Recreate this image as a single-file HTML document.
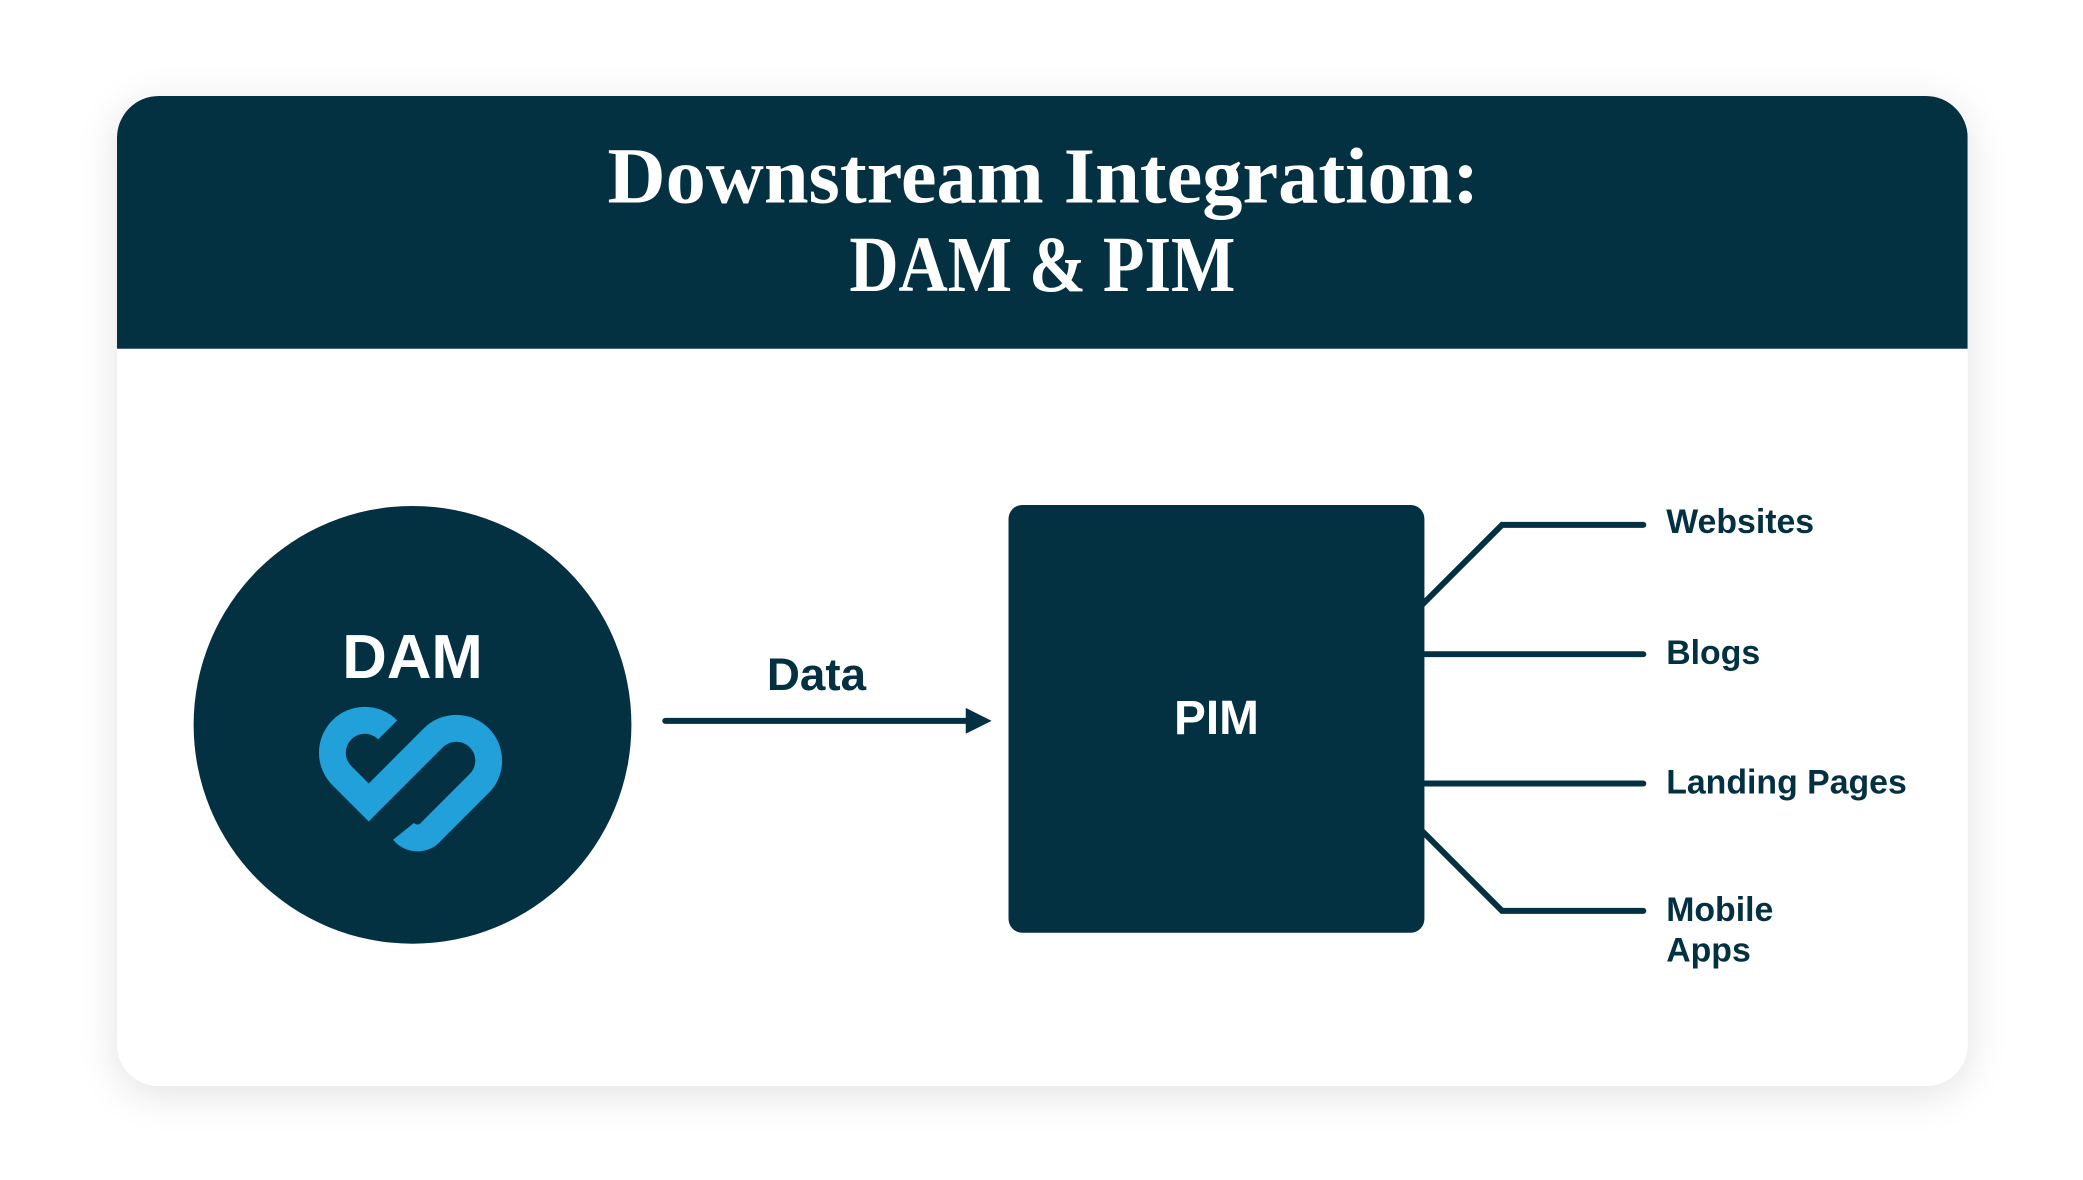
<!DOCTYPE html>
<html><head><meta charset="utf-8"><style>
html,body{margin:0;padding:0;background:#fff;}
svg{display:block;}
</style></head><body>
<svg width="2083" height="1180" viewBox="0 0 2083 1180" xmlns="http://www.w3.org/2000/svg">
<defs>
<filter id="sh" x="-10%" y="-10%" width="120%" height="120%">
<feGaussianBlur in="SourceAlpha" stdDeviation="22"/>
<feComponentTransfer><feFuncA type="linear" slope="0.12"/></feComponentTransfer>
<feOffset dy="8"/>
<feMerge><feMergeNode/><feMergeNode in="SourceGraphic"/></feMerge>
</filter>
<clipPath id="cc"><rect x="117" y="96" width="1860" height="995" rx="42"/></clipPath>
</defs>
<rect width="2083" height="1180" fill="#fff"/>
<g transform="translate(117,96) scale(0.995) translate(-117,-96)">
<rect x="117" y="96" width="1860" height="995" rx="42" fill="#fff" filter="url(#sh)"/>
<rect x="117" y="96" width="1860" height="254" fill="#043142" clip-path="url(#cc)"/>
<g font-family="Liberation Serif, serif" font-weight="bold" fill="#fff" font-size="80">
<text x="610" y="203" textLength="876" lengthAdjust="spacingAndGlyphs">Downstream Integration:</text>
<text x="853" y="292" textLength="388" lengthAdjust="spacingAndGlyphs">DAM &amp; PIM</text>
</g>
<circle cx="414" cy="728" r="220" fill="#043142"/>
<text x="414" y="681" text-anchor="middle" font-family="Liberation Sans, sans-serif" font-weight="bold" font-size="62" fill="#fff">DAM</text>
<g fill="none" stroke="#21a0d9" stroke-width="27">
<path d="M389,733 A32,32 0 1 0 343,779 L370,806 L435,741 A32,32 0 1 1 481,787 L433,835 A18,18 0 0 1 405,835"/>
</g>
<line x1="668" y1="724" x2="975" y2="724" stroke="#043142" stroke-width="6" stroke-linecap="round"/>
<polygon points="970,711 996,724 970,737" fill="#043142"/>
<text x="820" y="693" text-anchor="middle" font-family="Liberation Sans, sans-serif" font-weight="bold" font-size="46" fill="#043142">Data</text>
<rect x="1013" y="507" width="418" height="430" rx="14" fill="#043142"/>
<text x="1222" y="737" text-anchor="middle" font-family="Liberation Sans, sans-serif" font-weight="bold" font-size="48" fill="#fff">PIM</text>
<g fill="none" stroke="#043142" stroke-width="6" stroke-linecap="round" stroke-linejoin="miter">
<path d="M1428,608 L1509,527 L1651,527"/>
<path d="M1428,657 L1651,657"/>
<path d="M1428,787 L1651,787"/>
<path d="M1428,834 L1509,915 L1651,915"/>
</g>
<g font-family="Liberation Sans, sans-serif" font-weight="bold" font-size="34" fill="#043142">
<text x="1674" y="535">Websites</text>
<text x="1674" y="667">Blogs</text>
<text x="1674" y="797">Landing Pages</text>
<text x="1674" y="925">Mobile</text>
<text x="1674" y="966">Apps</text>
</g>
</g>
</svg>
</body></html>
